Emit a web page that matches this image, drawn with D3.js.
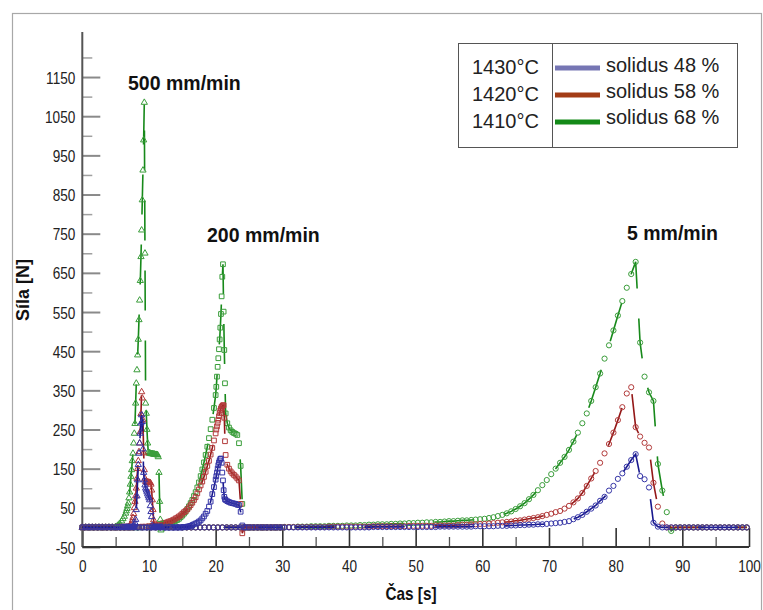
<!DOCTYPE html>
<html><head><meta charset="utf-8">
<script src="https://cdn.jsdelivr.net/npm/d3@7"></script>
<style>body{margin:0;background:#fff}text{font-family:"Liberation Sans",Arial,sans-serif}</style></head>
<body><svg id="c" width="763" height="610"></svg>
<script>
// ---------- DATA ----------
const yMajorTicks = [-50,50,150,250,350,450,550,650,750,850,950,1050,1150];
const yMinorTicks = [0,100,200,300,400,500,600,700,800,900,1000,1100,1200];
const xMajorTicks = [0,10,20,30,40,50,60,70,80,90,100];
const xMinorTicks = [5,15,25,35,45,55,65,75,85,95];

const seriesNames = ["solidus 48 %","solidus 58 %","solidus 68 %"];
const temperatures = ["1430°C","1420°C","1410°C"];
const speedLabels = ["500 mm/min","200 mm/min","5 mm/min"];

// 500 mm/min (triangles)
const t500 = [0,0.5,1,1.5,2,2.5,3,3.5,4,4.5,5,5.3,5.6,5.9,6.1,6.3,6.5,6.6,6.7,6.8,6.9,7.0,7.1,7.2,7.3,7.4,7.5,7.6,7.7,7.8,7.9,8.0,8.1,8.2,8.3,8.4,8.5,8.6,8.7,8.8,8.9,9.0,9.1,9.2,9.3,9.4,9.5,9.6,9.7,9.8,9.9,10.0,10.1,10.2,10.3,10.4,10.5,10.6,10.7,10.8,10.9,11.0,11.1,11.2,11.3,11.4,11.5,11.6,11.7,11.8,11.9,12.0,12.5,13.0];
const green500 = [0,0,0,0,0,0,0,0,0,0,2, 5,10,16,22,28,
 36,42,48,55,62, 75,90,110,130,147,170,189,215,240,265, 317,368,402,440,480,530,580,630,691,759,
 836,912,989,1085,700,317,291,250,215,193, 190,189,189,188,188,188,187,187,187,186, 186,186,185,185,180,140,66,20,-7,0, 0, 0,0];
const red500 = [0,0,0,0,0,0,0,0,0,0,0, 0,0,0,0,0,
 0,0,0,0,1, 1,2,4,7,12,18,25,35,50,66, 80,100,125,150,170,193,215,244,290,346,
 330,274,190,147,125,117,116,116,115,115, 115,114,114,110,95,70,45,19,0,0, 0,0,0,0,0,0,0,0,0,0, 0, 0,0];
const blue500 = [0,0,0,0,0,0,0,0,0,0,0, 0,0,0,0,0,
 0,0,0,0,0, 0,0,0,0,0,0,2,4,7,12, 20,45,80,121,160,189,215,240,266,287,
 270,200,140,121,108,100,95,90,85,80, 75,70,55,40,27,5,0,0,0,0, 0,0,0,0,0,0,0,0,0,0, 0, 0,0];

// 200 mm/min (squares)
const t200 = [0,0.5,1,1.5,2,2.5,3,3.5,4,4.5,5,5.5,6,6.5,7,7.5,8,8.5,9,9.5,10,10.5,11,11.5,12,
 12.25,12.5,12.75,13,13.25,13.5,13.75,14,14.25,14.5,14.75,15,15.25,15.5,15.75,16,16.25,16.5,16.75,17,17.25,17.5,17.75,18,18.25,18.5,18.75,19,19.25,19.5,19.75,20,
 20.1,20.2,20.3,20.4,20.5,20.6,20.7,20.8,20.9,21.0,21.1,21.2,21.3,21.4,21.5,
 21.75,22,22.25,22.5,22.75,23,23.25,23.5,23.75,24,24.25,24.5,
 25,25.5,26,26.5,27,27.5,28,28.5,29,29.5,30];
const green200 = [0,0,0,0,0,0,0,0,0,0,0,0,0,0,0,0,0,0,1,1,2,3,4,5,6,
 7,8,9,10,12,13,15,17,19,22,26,30,35,40,47,54,62,70,80,90,102,115,131,148,166,185,206,228,251,275,305,338,
 359,385,410,432,455,480,510,545,590,640,672,551,453,368,291,
 266,255,248,244,241,239,236,215,157,60,0,0,
 0,0,0,0,0,0,0,0,0,0,0];
const red200 = [0,0,0,0,0,0,0,0,0,0,0,0,0,0,0,0,1,1,2,2,3,4,6,7,10,
 11,12,13,15,16,18,20,23,25,28,31,35,39,42,46,51,57,63,70,77,87,97,107,117,129,142,157,170,186,203,222,240,
 250,258,267,275,284,292,299,304,308,310,312,312,280,220,185,
 160,150,143,138,134,130,125,120,60,-15,0,0,
 0,0,0,0,0,0,0,0,0,0,0];
const blue200 = [0,0,0,0,0,0,0,0,0,0,0,0,0,0,0,0,0,0,0,0,0,0,0,0,0,
 0,0,0,0,0,0,0,0,0,0,0,0,1,1,2,3,4,6,8,10,12,15,18,23,28,35,42,53,66,85,103,122,
 131,140,150,159,166,171,175,176,165,140,120,95,78,72,70,
 67,65,63,62,61,60,58,57,40,5,0,0,
 0,0,0,0,0,0,0,0,0,0,0];

// 5 mm/min (circles), sampled every 2/3 s starting at 1/3 s
const t5Start = 1/3, t5Step = 2/3;
const green5 = [0,0,0,0,0,0,0,0,0,0,0,0,0,0,0,0,0,0,0,0,0,0,0,0,0,0,0,0,0,0,0,0,0,0,0,0,0,0,0,0,0,0,0,0,0,
 1,1,1,2,2,2,3,3,3,3,4,4,4,4,5,5,5,6,6,7,7,8,8,8,9,9,10,10,11,11,12,12,13,13,14,14,15,16,16,17,18,18,19,20,21,
 22,24,26,29,32,36,41,47,54,62,72,83,95,108,121,136,150,165,180,198,219,242,266,291,323,358,393,431,465,503,541,578,612,647,678,
 472,385,345,323,162,94,39,-9,
 0,0,0,0,0,0,0,0,0,0,0,0,0,0,0,0,0];
const red5 = [0,0,0,0,0,0,0,0,0,0,0,0,0,0,0,0,0,0,0,0,0,0,0,0,0,0,0,0,0,0,0,0,0,0,0,0,0,0,0,0,0,0,0,0,0,
 1,1,1,1,1,1,1,1,1,1, 2,2,2,2,2,2,2,2,2,2, 3,3,3,3,3,3,3,3, 4,4,4,4,4,4, 5,5,5,5,5, 6,7,7,8, 8,9,
 9,10,11,12,13,14,15,17,18,20,22,24,26,29,32,35,39,42,48,55,64,74,88,106,125,144,165,189,213,242,274,307,342,358,
 256,232,216,204,114,53,10,
 0,0,0,0,0,0,0,0,0,0,0,0,0,0,0,0,0,0,0];
const blue5 = [0,0,0,0,0,0,0,0,0,0,0,0,0,0,0,0,0,0,0,0,0,0,0,0,0,0,0,0,0,0,0,0,0,0,0,0,0,0,0,0,0,0,0,0,0,0,0,0,0,0,0,0,0,0,0,0,0,0,0,0,0,0,0,0,0,
 1,1,1,1,1,1,1,1,1,1,1,1,1,1,1, 2,2,2,2,2,2,2,2, 3,3,3,3,3, 4,4,4, 5,5, 6,6,
 7,7,8,8,9,10,11,12,14,16,21,26,32,40,48,56,68,78,94,106,124,138,155,172,187,131,123,102,12,2,
 0,0,0,0,0,0,0,0,0,0,0,0,0,0,0,0,0,0,0,0];

// ---------- CHART ----------
const markerCol = {g:"#3a9d3a", r:"#b23a3a", b:"#3434a6"};
const lineCol = {g:"#17891a", r:"#941818", b:"#18188e"};
const legendCol = ["#7676b4","#a33c16","#148a18"];

const svg = d3.select("#c");
const x = d3.scaleLinear().domain([0,100]).range([82.3,749]);
const y = d3.scaleLinear().domain([-50,1265]).range([547,32]);

svg.append("rect").attr("x",12.5).attr("y",13.5).attr("width",749).attr("height",640)
  .attr("fill","none").attr("stroke","#a8a8a8").attr("stroke-width",1.2);

// axes
const yMaj = svg.append("g").attr("transform",`translate(${x(0)},0)`)
  .call(d3.axisLeft(y).tickValues(yMajorTicks).tickSize(-18).tickPadding(0).tickFormat(d=>String(d)));
yMaj.select(".domain").remove();
yMaj.selectAll("line").attr("stroke","#8a8a8a").attr("stroke-width",2);
yMaj.selectAll("text").attr("x",0).attr("dy","0.36em").attr("text-anchor","end")
  .attr("transform","translate(-7,0) scale(0.8,1)").style("font-size","17px").attr("fill","#222");
const yMin = svg.append("g").attr("transform",`translate(${x(0)},0)`)
  .call(d3.axisLeft(y).tickValues(yMinorTicks).tickSize(-10).tickFormat(""));
yMin.select(".domain").remove();
yMin.selectAll("line").attr("stroke","#a0a0a0").attr("stroke-width",1.5);

const xMaj = svg.append("g").attr("transform",`translate(0,${y(-50)})`)
  .call(d3.axisBottom(x).tickValues(xMajorTicks).tickSize(-19).tickPadding(13).tickFormat(d=>String(d)));
xMaj.select(".domain").remove();
xMaj.selectAll("line").attr("stroke","#333").attr("stroke-width",1.6);
xMaj.selectAll("text").attr("transform","scale(0.8,1)").style("font-size","17px").attr("fill","#222");
const xMin = svg.append("g").attr("transform",`translate(0,${y(-50)})`)
  .call(d3.axisBottom(x).tickValues(xMinorTicks).tickSize(-10).tickFormat(""));
xMin.select(".domain").remove();
xMin.selectAll("line").attr("stroke","#555").attr("stroke-width",1.3);

svg.append("line").attr("x1",x(0)).attr("x2",x(0)).attr("y1",y(1265)).attr("y2",y(-50))
  .attr("stroke","#555").attr("stroke-width",2);
svg.append("line").attr("x1",x(0)).attr("x2",x(100)).attr("y1",y(-50)).attr("y2",y(-50))
  .attr("stroke","#333").attr("stroke-width",2);

// axis titles
svg.append("text").attr("transform",`translate(411,600) scale(0.85,1)`).attr("text-anchor","middle")
  .style("font-size","18px").style("font-weight","bold").attr("fill","#111").text("Čas [s]");
svg.append("text").attr("transform",`translate(29,290) rotate(-90)`).attr("text-anchor","middle")
  .style("font-size","18px").style("font-weight","bold").attr("fill","#111").text("Síla [N]");

// data series
const t5 = green5.map((_,i)=> t5Start + i*t5Step);
const groups = [
  {t:t5, sets:[["g",green5],["r",red5],["b",blue5]], shape:"circle"},
  {t:t200, sets:[["g",green200],["r",red200],["b",blue200]], shape:"square"},
  {t:t500, sets:[["g",green500],["r",red500],["b",blue500]], shape:"triangle"}
];
const plot = svg.append("g");
const line = d3.line();
groups.forEach(G=>{
  G.sets.forEach(([c,vals])=>{
    const pts = vals.map((v,i)=>[x(G.t[i]), y(v)]);
    plot.append("path").attr("d",line(pts)).attr("fill","none")
      .attr("stroke",lineCol[c]).attr("stroke-width",1.6).attr("stroke-dasharray","40,30");
    const mk = plot.append("g");
    if(G.shape==="circle"){
      mk.selectAll("circle").data(pts).join("circle").attr("cx",d=>d[0]).attr("cy",d=>d[1]).attr("r",2.6)
        .attr("fill","none").attr("stroke",markerCol[c]).attr("stroke-width",1);
    } else {
      const sym = d3.symbol().type(G.shape==="square"?d3.symbolSquare:d3.symbolTriangle).size(G.shape==="square"?22:17);
      mk.selectAll("path").data(pts).join("path").attr("transform",d=>`translate(${d[0]},${d[1]})`)
        .attr("d",sym).attr("fill","none").attr("stroke",markerCol[c]).attr("stroke-width",1);
    }
  });
});

// speed annotations
const annPos = [[128,90],[207,241.5],[627,240]];
speedLabels.forEach((s,i)=>{
  svg.append("text").attr("x",annPos[i][0]).attr("y",annPos[i][1])
    .style("font-size","19.5px").style("font-weight","bold").attr("fill","#111").text(s);
});

// legend
const lg = svg.append("g");
lg.append("rect").attr("x",458.5).attr("y",43.5).attr("width",279).attr("height",104)
  .attr("fill","#fff").attr("stroke","#555");
lg.append("rect").attr("x",458.5).attr("y",43.5).attr("width",94).attr("height",104)
  .attr("fill","none").attr("stroke","#555");
const tempY = [74,101,128], nameY = [72,97.5,123.5], lineY=[68,95,122];
temperatures.forEach((t,i)=>{
  lg.append("text").attr("x",472).attr("y",tempY[i]).style("font-size","20px").attr("fill","#222").text(t);
});
seriesNames.forEach((n,i)=>{
  lg.append("line").attr("x1",555).attr("x2",600).attr("y1",lineY[i]).attr("y2",lineY[i])
    .attr("stroke",legendCol[i]).attr("stroke-width",5);
  lg.append("text").attr("x",606).attr("y",nameY[i]).style("font-size","20px").attr("fill","#222").text(n);
});
</script></body></html>
